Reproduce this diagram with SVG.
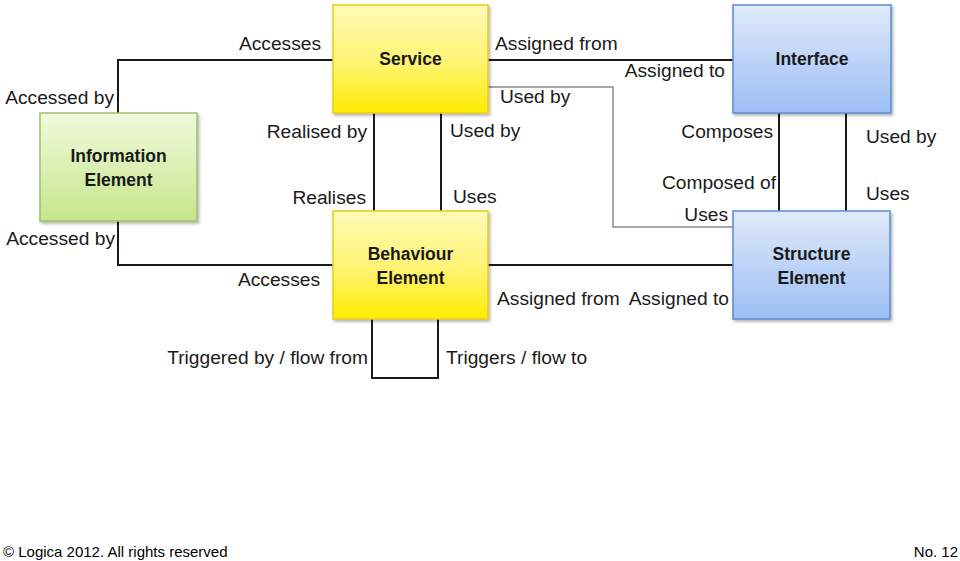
<svg xmlns="http://www.w3.org/2000/svg" width="960" height="561" viewBox="0 0 960 561">
<defs>
<linearGradient id="gy" x1="0" y1="0" x2="0" y2="1"><stop offset="0" stop-color="#fffbb8"/><stop offset="0.55" stop-color="#fff370"/><stop offset="1" stop-color="#ffec00"/></linearGradient>
<linearGradient id="gg" x1="0" y1="0" x2="0" y2="1"><stop offset="0" stop-color="#f1f9dc"/><stop offset="1" stop-color="#c6e68c"/></linearGradient>
<linearGradient id="gb" x1="0" y1="0" x2="0" y2="1"><stop offset="0" stop-color="#e0eafb"/><stop offset="1" stop-color="#9cbef4"/></linearGradient>
<filter id="sh" x="-10%" y="-10%" width="130%" height="130%"><feDropShadow dx="1.5" dy="2" stdDeviation="1.5" flood-color="#000" flood-opacity="0.3"/></filter>
</defs>
<style>
.lbl{font-family:"Liberation Sans",Arial,sans-serif;font-size:19.2px;fill:#1a1a1a}
.nl{font-family:"Liberation Sans",Arial,sans-serif;font-size:17.5px;font-weight:bold;fill:#1a1a1a;text-anchor:middle}
.ln{fill:none;stroke:#1a1a1a;stroke-width:2}
.lg{fill:none;stroke:#8a8a8a;stroke-width:1.5}
.ft{font-family:"Liberation Sans",Arial,sans-serif;font-size:15px;fill:#000}
.y{fill:url(#gy);stroke:#e6cc1a;stroke-width:1.5;filter:url(#sh)}
.g{fill:url(#gg);stroke:#9fc06e;stroke-width:1.5;filter:url(#sh)}
.b{fill:url(#gb);stroke:#5a8ccc;stroke-width:1.5;filter:url(#sh)}
</style>
<rect width="960" height="561" fill="#fff"/>
<g id="connectors">
<polyline class="ln" points="118,113 118,60 333,60"/>
<line class="ln" x1="488" y1="60" x2="733" y2="60" stroke-width="1.5"/>
<polyline class="lg" points="488,87 613,87 613,227 733,227"/>
<polyline class="ln" points="118,221 118,265 333,265"/>
<line class="ln" x1="488" y1="265" x2="733" y2="265"/>
<line class="ln" x1="374" y1="113" x2="374" y2="211"/>
<line class="ln" x1="441" y1="113" x2="441" y2="211"/>
<line class="ln" x1="779" y1="113" x2="779" y2="211"/>
<line class="ln" x1="846" y1="113" x2="846" y2="211"/>
<polyline class="ln" points="372,319 372,378 438,378 438,319"/>
</g>
<g id="service"><rect class="y" x="333" y="5" width="155" height="108"/><text class="nl" x="410.5" y="65">Service</text></g>
<g id="interface"><rect class="b" x="733" y="5" width="158" height="108"/><text class="nl" x="812" y="65">Interface</text></g>
<g id="information-element"><rect class="g" x="40" y="113" width="157" height="108"/><text class="nl" x="118.5" y="162">Information</text><text class="nl" x="118.5" y="186">Element</text></g>
<g id="behaviour-element"><rect class="y" x="333" y="211" width="155" height="108"/><text class="nl" x="410.5" y="260">Behaviour</text><text class="nl" x="410.5" y="284">Element</text></g>
<g id="structure-element"><rect class="b" x="733" y="211" width="157" height="108"/><text class="nl" x="811.5" y="260">Structure</text><text class="nl" x="811.5" y="284">Element</text></g>
<g id="labels">
<text class="lbl" x="321" y="50" text-anchor="end">Accesses</text>
<text class="lbl" x="495" y="50">Assigned from</text>
<text class="lbl" x="114" y="104" text-anchor="end">Accessed by</text>
<text class="lbl" x="500" y="103">Used by</text>
<text class="lbl" x="725" y="77" text-anchor="end">Assigned to</text>
<text class="lbl" x="367" y="138" text-anchor="end">Realised by</text>
<text class="lbl" x="450" y="137">Used by</text>
<text class="lbl" x="773" y="138" text-anchor="end">Composes</text>
<text class="lbl" x="866" y="143">Used by</text>
<text class="lbl" x="366" y="204" text-anchor="end">Realises</text>
<text class="lbl" x="453" y="203">Uses</text>
<text class="lbl" x="776" y="189" text-anchor="end">Composed of</text>
<text class="lbl" x="866" y="200">Uses</text>
<text class="lbl" x="728" y="221" text-anchor="end">Uses</text>
<text class="lbl" x="115" y="245" text-anchor="end">Accessed by</text>
<text class="lbl" x="320" y="286" text-anchor="end">Accesses</text>
<text class="lbl" x="497" y="305">Assigned from</text>
<text class="lbl" x="729" y="305" text-anchor="end">Assigned to</text>
<text class="lbl" x="368" y="364" text-anchor="end">Triggered by / flow from</text>
<text class="lbl" x="446" y="364">Triggers / flow to</text>
</g>
<g id="footer">
<text class="ft" x="3" y="557">© Logica 2012. All rights reserved</text>
<text class="ft" x="958" y="557" text-anchor="end">No. 12</text>
</g>
</svg>
